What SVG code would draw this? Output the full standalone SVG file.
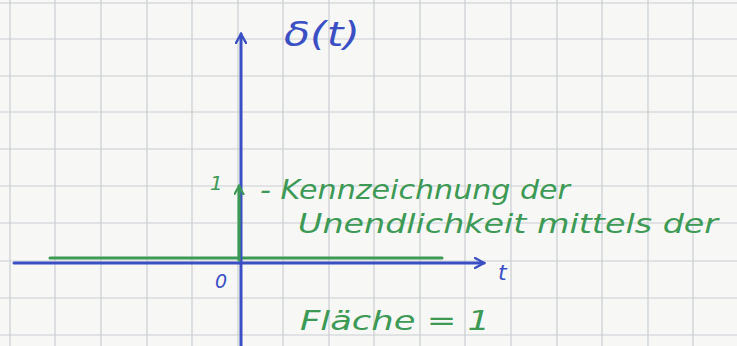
<svg xmlns="http://www.w3.org/2000/svg" width="737" height="346" viewBox="0 0 737 346">
<defs>
<style>
.grid{stroke:#c9cdd1;stroke-width:1.2}
.blue{stroke:#3b4fc4;stroke-width:3;fill:none;stroke-linecap:round}
.green{stroke:#3c9a55;stroke-width:3;fill:none;stroke-linecap:round}
.tb{fill:#3b4fc4;font-family:"DejaVu Sans",sans-serif;font-style:italic}
.tg{fill:#3c9a55;font-family:"DejaVu Sans",sans-serif;font-style:italic}
</style>
<marker id="ab" viewBox="0 0 12 12" refX="10" refY="6" markerWidth="12" markerHeight="12" markerUnits="userSpaceOnUse" orient="auto">
<path d="M1,1 L10,6 L1,11" fill="none" stroke="#3b4fc4" stroke-width="2.4" stroke-linecap="round"/>
</marker>
<marker id="ag" viewBox="0 0 12 12" refX="10" refY="6" markerWidth="11" markerHeight="11" markerUnits="userSpaceOnUse" orient="auto">
<path d="M1,1 L10,6 L1,11" fill="none" stroke="#3c9a55" stroke-width="2.4" stroke-linecap="round"/>
</marker>
</defs>
<rect width="737" height="346" fill="#f7f7f6"/>
<g id="grid" class="grid">
<line x1="10" y1="0" x2="10" y2="346"/><line x1="55" y1="0" x2="55" y2="346"/><line x1="101" y1="0" x2="101" y2="346"/><line x1="147" y1="0" x2="147" y2="346"/><line x1="192" y1="0" x2="192" y2="346"/><line x1="238" y1="0" x2="238" y2="346"/><line x1="283" y1="0" x2="283" y2="346"/><line x1="329" y1="0" x2="329" y2="346"/><line x1="374" y1="0" x2="374" y2="346"/><line x1="420" y1="0" x2="420" y2="346"/><line x1="465" y1="0" x2="465" y2="346"/><line x1="511" y1="0" x2="511" y2="346"/><line x1="557" y1="0" x2="557" y2="346"/><line x1="602" y1="0" x2="602" y2="346"/><line x1="648" y1="0" x2="648" y2="346"/><line x1="693" y1="0" x2="693" y2="346"/>
<line x1="0" y1="3" x2="737" y2="3"/><line x1="0" y1="39" x2="737" y2="39"/><line x1="0" y1="76" x2="737" y2="76"/><line x1="0" y1="112" x2="737" y2="112"/><line x1="0" y1="149" x2="737" y2="149"/><line x1="0" y1="186" x2="737" y2="186"/><line x1="0" y1="223" x2="737" y2="223"/><line x1="0" y1="261" x2="737" y2="261"/><line x1="0" y1="298" x2="737" y2="298"/><line x1="0" y1="335" x2="737" y2="335"/>
</g>
<g id="connectors">
<line class="green" x1="50" y1="258" x2="442" y2="258"/>
<line class="blue" x1="14" y1="263" x2="484" y2="263" marker-end="url(#ab)"/>
<line class="blue" x1="241" y1="346" x2="241" y2="34" marker-end="url(#ab)"/>
<line class="green" x1="239" y1="260" x2="239" y2="186" marker-end="url(#ag)"/>
</g>
<g id="label-delta"><text class="tb" x="284" y="46" font-size="34" textLength="76" lengthAdjust="spacingAndGlyphs">δ(t)</text></g>
<g id="label-t"><text class="tb" x="498" y="280" font-size="22">t</text></g>
<g id="label-0"><text class="tb" x="215" y="288" font-size="19">0</text></g>
<g id="label-1"><text class="tg" x="210" y="190" font-size="20">1</text></g>
<g id="note">
<text class="tg" x="260" y="199" font-size="27" textLength="310" lengthAdjust="spacingAndGlyphs">- Kennzeichnung der</text>
<text class="tg" x="298" y="233" font-size="27" textLength="420" lengthAdjust="spacingAndGlyphs">Unendlichkeit mittels der</text>
<text class="tg" x="300" y="330" font-size="27" textLength="190" lengthAdjust="spacingAndGlyphs">Fläche = 1</text>
</g>
</svg>
